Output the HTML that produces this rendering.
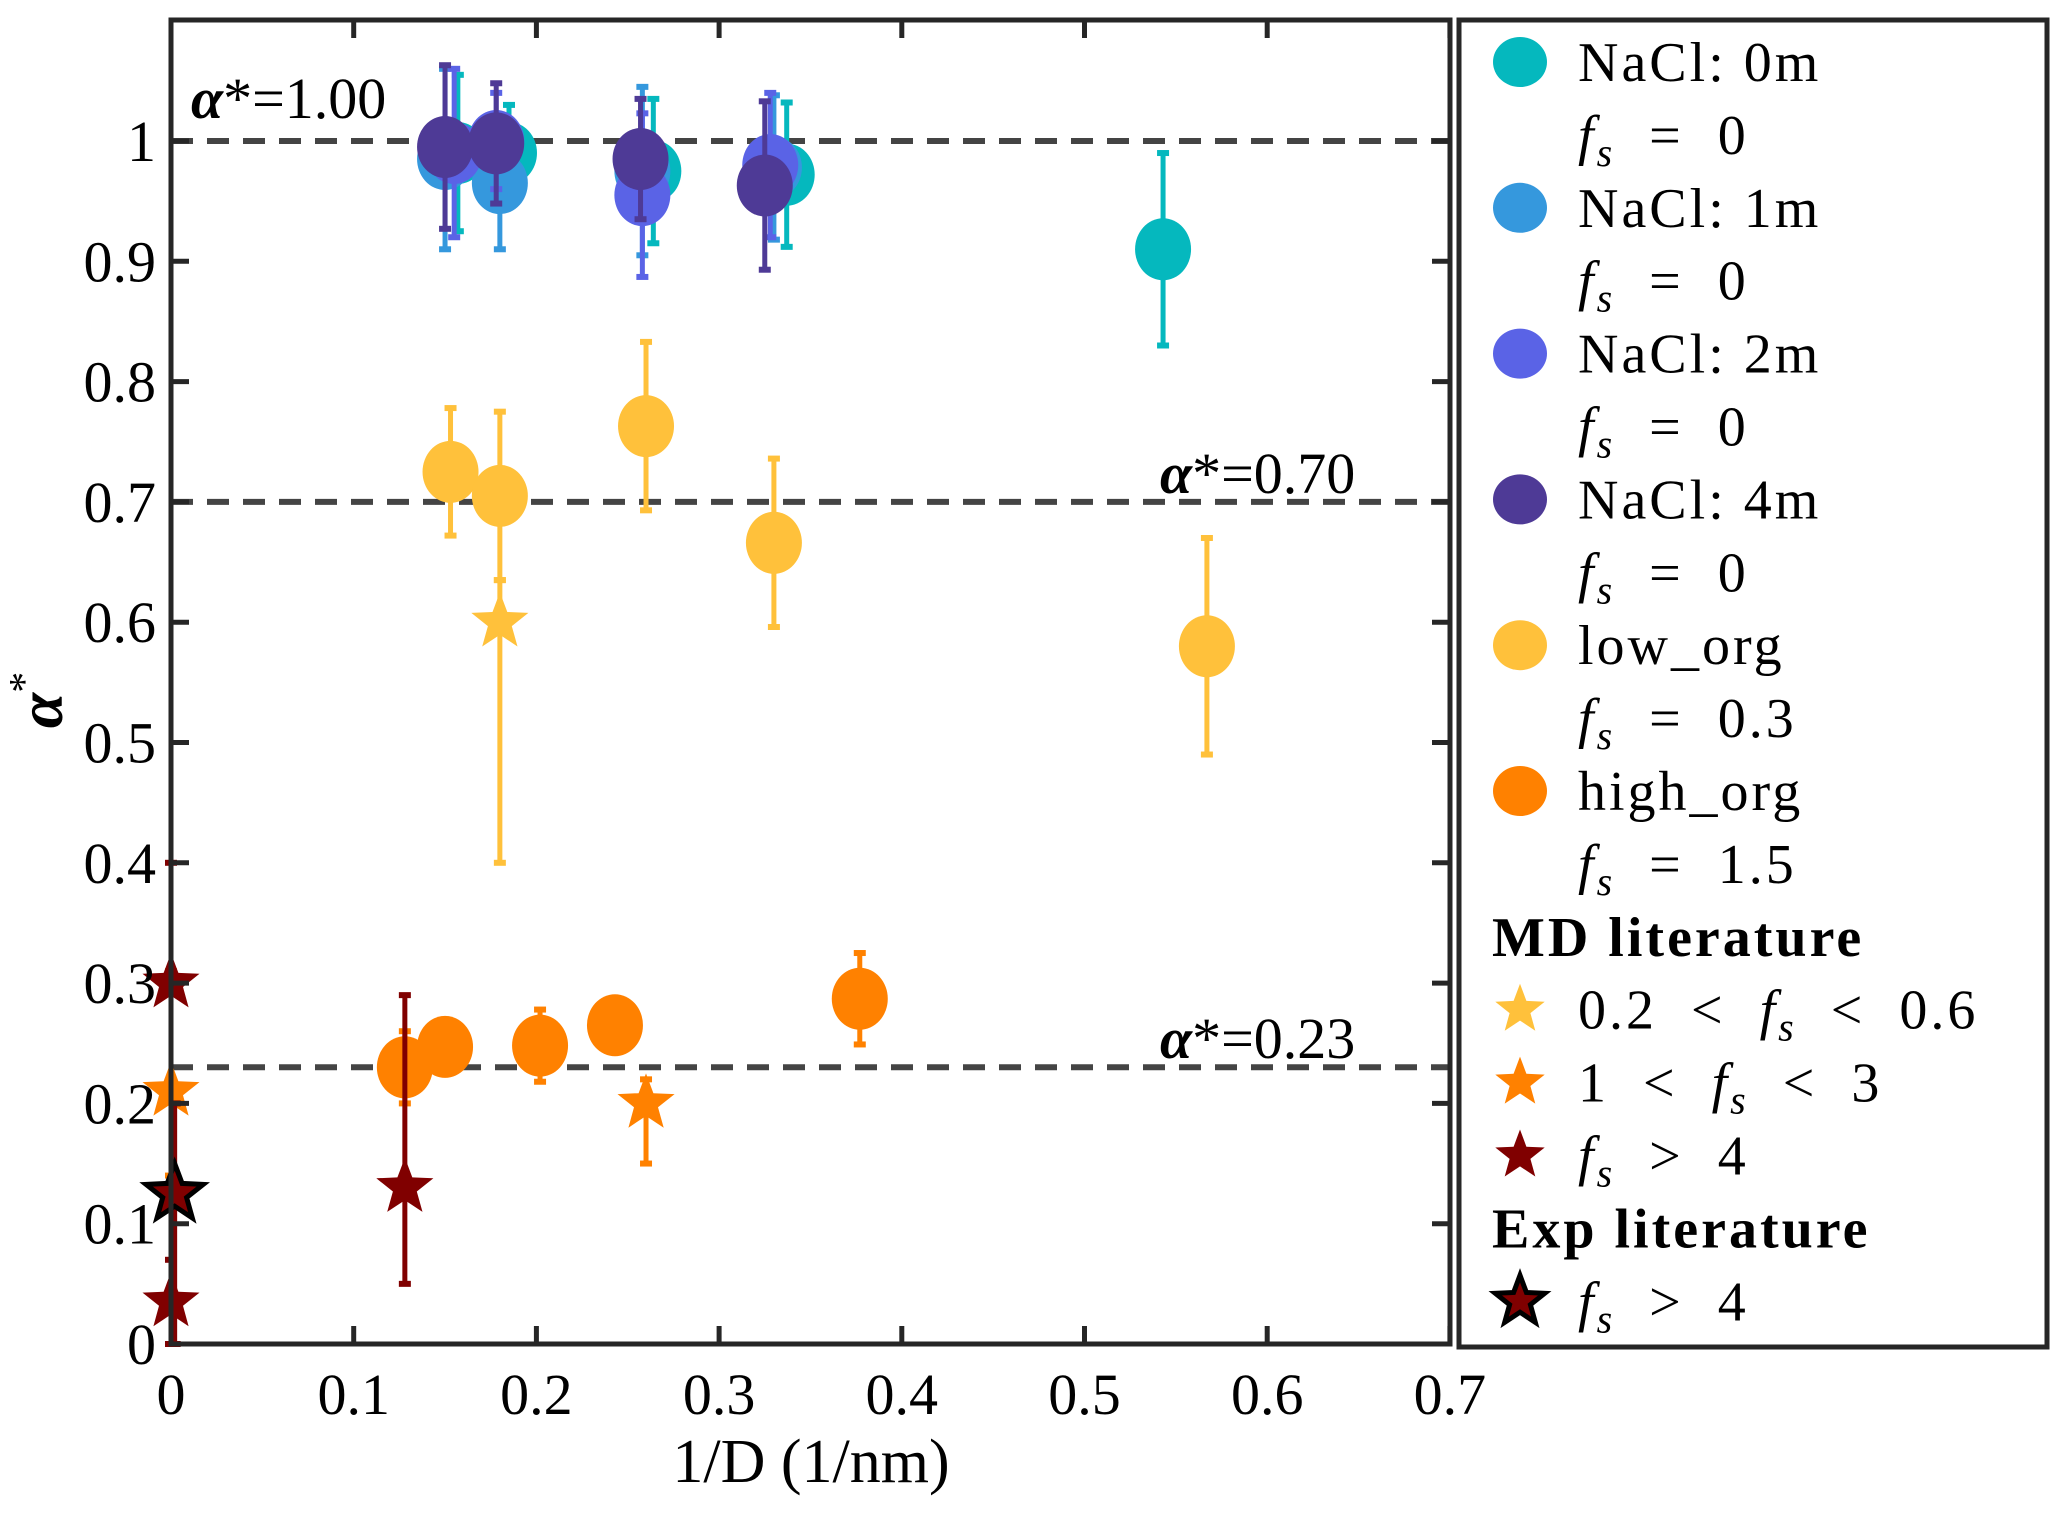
<!DOCTYPE html>
<html><head><meta charset="utf-8"><style>
html,body{margin:0;padding:0;background:#fff;}
svg{display:block;font-family:"Liberation Serif",serif;}
</style></head><body>
<svg id="chart" width="2067" height="1516" viewBox="0 0 2067 1516" xmlns="http://www.w3.org/2000/svg">
<rect x="0" y="0" width="2067" height="1516" fill="#fff"/>
<g id="grid"></g>
<g id="marks"></g>
<rect x="171" y="20" width="1279" height="1324" fill="none" stroke="#262626" stroke-width="5"/>
<g id="ticks"></g>
<text x="191" y="118" font-size="58"><tspan font-weight="bold" font-style="italic">α</tspan>*=1.00</text>
<text x="1160" y="493" font-size="58"><tspan font-weight="bold" font-style="italic">α</tspan>*=0.70</text>
<text x="1160" y="1058" font-size="58"><tspan font-weight="bold" font-style="italic">α</tspan>*=0.23</text>
<text x="811" y="1482" font-size="62" text-anchor="middle">1/D (1/nm)</text>
<text x="62" y="700" font-size="64" text-anchor="middle" transform="rotate(-90 62 700)"><tspan font-weight="bold" font-style="italic">α</tspan><tspan font-size="42" dy="-24">*</tspan></text>
<rect x="1459" y="20" width="588" height="1327" fill="#fff" stroke="#262626" stroke-width="5"/>
<g id="legend"></g>
</svg>
<script>
const NS="http://www.w3.org/2000/svg";
const xTicks=[0,0.1,0.2,0.3,0.4,0.5,0.6,0.7];
const xTickLabels=["0","0.1","0.2","0.3","0.4","0.5","0.6","0.7"];
const yTicks=[0,0.1,0.2,0.3,0.4,0.5,0.6,0.7,0.8,0.9,1];
const yTickLabels=["0","0.1","0.2","0.3","0.4","0.5","0.6","0.7","0.8","0.9","1"];
const refLines=[1.0,0.70,0.23];
// circle series
const nacl0X=[0.157,0.185,0.264,0.337,0.543];
const nacl0Y=[0.99,0.99,0.975,0.972,0.91];
const nacl0E=[0.065,0.04,0.06,0.06,0.08];
const nacl1X=[0.150,0.180,0.258,0.330];
const nacl1Y=[0.985,0.965,0.975,0.978];
const nacl1E=[0.075,0.055,0.07,0.06];
const nacl2X=[0.155,0.178,0.258,0.328];
const nacl2Y=[0.99,1.0,0.955,0.98];
const nacl2E=[0.07,0.04,0.068,0.06];
const nacl4X=[0.150,0.178,0.257,0.325];
const nacl4Y=[0.995,0.998,0.985,0.963];
const nacl4E=[0.068,0.05,0.05,0.07];
const lowX=[0.153,0.180,0.260,0.330,0.567];
const lowY=[0.725,0.705,0.763,0.666,0.580];
const lowE=[0.053,0.07,0.07,0.07,0.09];
const highX=[0.128,0.150,0.202,0.243,0.377];
const highY=[0.230,0.247,0.248,0.265,0.287];
const highE=[0.03,0.0,0.03,0.02,0.038];
// star series
const mdLowX=[0.180];const mdLowY=[0.600];const mdLowLo=[0.400];const mdLowHi=[0.635];
const mdMidX=[0.0,0.260];const mdMidY=[0.210,0.200];const mdMidLo=[0.14,0.15];const mdMidHi=[0.31,0.22];
const mdHighX=[0.0,0.0,0.128];const mdHighY=[0.300,0.035,0.130];const mdHighLo=[0.0,0.0,0.05];const mdHighHi=[0.40,0.07,0.29];
const expX=[0.002];const expY=[0.125];const expLo=[0.0];const expHi=[0.20];

const X0=171,XS=1827,Y0=1344,YS=1203;
const sx=v=>X0+v*XS, sy=v=>Y0-v*YS;
function el(tag,attrs,parent){const e=document.createElementNS(NS,tag);for(const k in attrs)e.setAttribute(k,attrs[k]);parent.appendChild(e);return e;}
const grid=document.getElementById('grid'),marks=document.getElementById('marks'),ticks=document.getElementById('ticks'),legend=document.getElementById('legend');
refLines.forEach(v=>{const l=el('line',{x1:171,x2:1450,y1:sy(v),y2:sy(v),stroke:'#444','stroke-width':6,'stroke-dasharray':'22 14'},grid);

});
xTicks.forEach((v,i)=>{const x=sx(v);
el('line',{x1:x,x2:x,y1:1344,y2:1326,stroke:'#262626','stroke-width':5},ticks);
el('line',{x1:x,x2:x,y1:20,y2:38,stroke:'#262626','stroke-width':5},ticks);
const t=el('text',{x:x,y:1414,'font-size':58,'text-anchor':'middle'},ticks);t.textContent=xTickLabels[i];

});
yTicks.forEach((v,i)=>{const y=sy(v);
el('line',{x1:171,x2:189,y1:y,y2:y,stroke:'#262626','stroke-width':5},ticks);
el('line',{x1:1450,x2:1432,y1:y,y2:y,stroke:'#262626','stroke-width':5},ticks);
const t=el('text',{x:156,y:y+20,'font-size':58,'text-anchor':'end'},ticks);t.textContent=yTickLabels[i];

});
function errbar(x,lo,hi,c){el('line',{x1:sx(x),x2:sx(x),y1:sy(lo),y2:sy(hi),stroke:c,'stroke-width':5},marks);
[lo,hi].forEach(v=>el('line',{x1:sx(x)-6,x2:sx(x)+6,y1:sy(v),y2:sy(v),stroke:c,'stroke-width':6},marks));}
function circles(X,Y,E,c,name){X.forEach((x,i)=>{if(E[i]>0)errbar(x,Y[i]-E[i],Y[i]+E[i],c);
const e=el('ellipse',{cx:sx(x),cy:sy(Y[i]),rx:28,ry:31,fill:c},marks);

});}
function starPts(cx,cy,r){let p=[];for(let k=0;k<10;k++){const a=-Math.PI/2+k*Math.PI/5;const rr=k%2?r*0.42:r;p.push((cx+rr*Math.cos(a)).toFixed(1)+','+(cy+rr*Math.sin(a)).toFixed(1));}return p.join(' ');}
function stars(X,Y,Lo,Hi,c,stroke,name){X.forEach((x,i)=>{errbar(x,Lo[i],Hi[i],c);
const s=el('polygon',{points:starPts(sx(x),sy(Y[i]),30),fill:c,stroke:stroke||'none','stroke-width':stroke?5:0},marks);

});}
circles(nacl0X,nacl0Y,nacl0E,'#05b8be','nacl-0m');
circles(nacl1X,nacl1Y,nacl1E,'#3598dd','nacl-1m');
circles(nacl2X,nacl2Y,nacl2E,'#5a63e6','nacl-2m');
circles(nacl4X,nacl4Y,nacl4E,'#4e3a96','nacl-4m');
circles(lowX,lowY,lowE,'#ffc13b','low-org');
circles(highX,highY,highE,'#ff8100','high-org');
stars(mdLowX,mdLowY,mdLowLo,mdLowHi,'#ffc13b',null,'md-low');
stars(mdMidX,mdMidY,mdMidLo,mdMidHi,'#ff8100',null,'md-mid');
stars(mdHighX,mdHighY,mdHighLo,mdHighHi,'#800000',null,'md-high');
stars(expX,expY,expLo,expHi,'#800000','#000','exp');
// legend
const rows=[
['c','#05b8be','NaCl:  0m'],['f','','= 0'],['c','#3598dd','NaCl:  1m'],['f','','= 0'],
['c','#5a63e6','NaCl:  2m'],['f','','= 0'],['c','#4e3a96','NaCl:  4m'],['f','','= 0'],
['c','#ffc13b','low_org'],['f','','= 0.3'],['c','#ff8100','high_org'],['f','','= 1.5'],
['h','','MD literature'],['s','#ffc13b','0.2 < ','f',' < 0.6'],['s','#ff8100','1 < ','f',' < 3'],['s','#800000','','f',' > 4'],
['h','','Exp literature'],['e','#800000','','f',' > 4']];
rows.forEach((r,k)=>{const y=62+k*72.9;const g=el('g',{},legend);


if(r[0]==='c')el('ellipse',{cx:1520,cy:y,rx:27,ry:25,fill:r[1]},g);
if(r[0]==='s'||r[0]==='e')el('polygon',{points:starPts(1520,y,26),fill:r[1],stroke:r[0]==='e'?'#000':'none','stroke-width':5},g);
let t;
if(r[0]==='h'){t=el('text',{x:1492,y:y+19,'font-size':56,'font-weight':'bold','letter-spacing':3},g);t.textContent=r[2];}
else if(r[0]==='c'){t=el('text',{x:1578,y:y+19,'font-size':56,'letter-spacing':3},g);t.textContent=r[2].replace('  ','\u00a0');}
else{t=el('text',{x:1578,y:y+19,'font-size':56,'letter-spacing':3},g);
let pre=r[0]==='f'?'':r[2];let post=r[0]==='f'?'  '+r[2].replace(' ','  '):r[4].replace(/ ([<>]) /,'  $1  ');
pre=pre.replace(' < ','  <  ');
const a=el('tspan',{},t);a.textContent=pre.replace(/ /g,'\u00a0');
const b=el('tspan',{'font-style':'italic'},t);b.textContent='f';
const c=el('tspan',{'font-style':'italic','font-size':40,dy:12},t);c.textContent='s';
const d=el('tspan',{dy:-12},t);d.textContent=post.replace(/ /g,'\u00a0');}
});
</script>
</body></html>
